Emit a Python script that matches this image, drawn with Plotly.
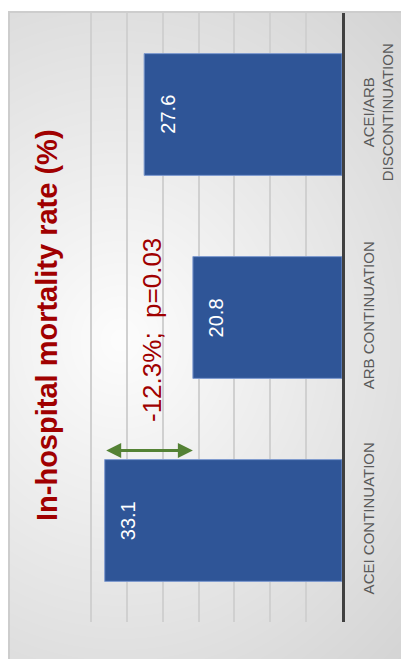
import zlib, struct, base64
import numpy as np
import plotly.graph_objects as go

# ---------------- data ----------------
categories = ["ACEI CONTINUATION", "ARB CONTINUATION", "ACEI/ARB<br>DISCONTINUATION"]
mortality = [33.1, 20.8, 27.6]
value_labels = ["33.1", "20.8", "27.6"]
x_ticks = [0, 5, 10, 15, 20, 25, 30, 35]
x_max = 35.15
title_text = "In-hospital mortality rate (%)"
diff_text = "-12.3%;  p=0.03"
diff_from = 33.1
diff_to = 20.8

# ---------------- geometry (screen px; page body has an 8px margin) ----------------
OFF = 8
SW, SH = 409, 659
W, H = SW - OFF, SH - OFF
PL, PR, PT, PB = 90, 342, 13, 622          # plot area on screen
ML, MR, MT, MB = PL - OFF, W - (PR - OFF), PT - OFF, H - (PB - OFF)
PW, PH = W - ML - MR, H - MT - MB


def pxx(px):
    return (px - OFF - ML) / PW


def pxy(py):
    return (H - MB - (py - OFF)) / PH


# ---------------- background gradient image ----------------
PX0, PY0 = 8, 11
gw, gh = SW - PX0, SH - PY0
yy, xx = np.mgrid[0:gh, 0:gw]
cx, cy = 120 - PX0, 340 - PY0
r = np.sqrt(((xx - cx) / 380.0) ** 2 + ((yy - cy) / 420.0) ** 2)
v = np.clip(253 - 38 * r, 0, 255)
v[:, :2] = 205
v[:2, :] = 205
arr = v.astype(np.uint8)


def png_uri(a):
    h, w = a.shape
    raw = b"".join(b"\x00" + a[i].tobytes() for i in range(h))

    def chunk(t, d):
        c = struct.pack(">I", len(d)) + t + d
        return c + struct.pack(">I", zlib.crc32(t + d) & 0xFFFFFFFF)

    png = (b"\x89PNG\r\n\x1a\n"
           + chunk(b"IHDR", struct.pack(">IIBBBBB", w, h, 8, 0, 0, 0, 0))
           + chunk(b"IDAT", zlib.compress(raw, 9))
           + chunk(b"IEND", b""))
    return "data:image/png;base64," + base64.b64encode(png).decode()


fig = go.Figure()
fig.add_trace(go.Bar(
    y=categories, x=mortality, orientation="h", width=0.6,
    marker=dict(color="#2F5597", line=dict(color="#7f9bd0", width=1)),
    hoverinfo="skip",
))

annotations = []
# value labels
for cat, val, lab in zip(categories, mortality, value_labels):
    annotations.append(dict(
        x=val, y=cat, xref="x", yref="y", text=lab, showarrow=False,
        textangle=-90, xanchor="left", yanchor="middle", xshift=10,
        font=dict(family="Liberation Sans, Arial, sans-serif", size=20, color="white"),
    ))
# title
annotations.append(dict(
    x=pxx(47), y=pxy(325), xref="paper", yref="paper", text="<b>" + title_text + "</b>",
    showarrow=False, textangle=-90, xanchor="center", yanchor="middle",
    font=dict(family="Liberation Sans, Arial, sans-serif", size=29, color="#A00000"),
))
# difference text
annotations.append(dict(
    x=pxx(152), y=pxy(330), xref="paper", yref="paper", text=diff_text,
    showarrow=False, textangle=-90, xanchor="center", yanchor="middle",
    font=dict(family="Liberation Sans, Arial, sans-serif", size=26, color="#A00000"),
))
# double arrow
annotations.append(dict(
    x=diff_to, y=0.345, ax=diff_from, ay=0.345, xref="x", yref="y",
    axref="x", ayref="y", text="", showarrow=True, arrowside="end+start",
    arrowhead=2, arrowsize=1.0, arrowwidth=3, arrowcolor="#548235",
    standoff=0, startstandoff=0,
))

fig.update_layout(
    width=W, height=H,
    margin=dict(l=ML, r=MR, t=MT, b=MB, pad=0),
    paper_bgcolor="white", plot_bgcolor="rgba(0,0,0,0)",
    showlegend=False,
    annotations=annotations,
    images=[dict(
        source=png_uri(arr), xref="paper", yref="paper",
        x=pxx(PX0), y=pxy(PY0), sizex=gw / PW, sizey=gh / PH,
        xanchor="left", yanchor="top", sizing="stretch", layer="below",
    )],
    xaxis=dict(
        range=[x_max, 0], tickvals=x_ticks, showticklabels=False, ticks="",
        showgrid=True, gridcolor="#d0d0d0", gridwidth=1.5,
        zeroline=False, showline=False, automargin=False,
    ),
    yaxis=dict(
        side="right", showline=True, linecolor="#404040", linewidth=2.5,
        ticks="", tickangle=-90, showgrid=False, automargin=False,
        ticklabelstandoff=11,
        tickfont=dict(family="Liberation Sans, Arial, sans-serif", size=15, color="#595959"),
    ),
)

fig.write_html("out.html")
